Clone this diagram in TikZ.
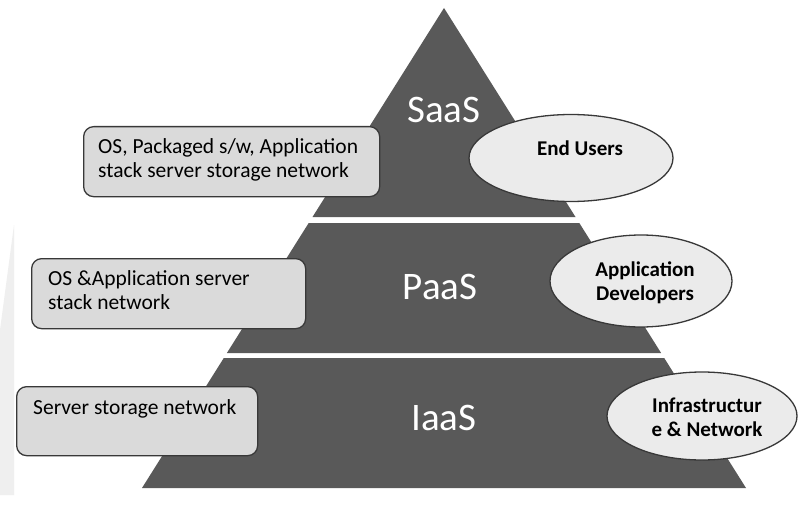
\documentclass[tikz,border=0pt]{standalone}
\usepackage{fontspec}
\setmainfont{Carlito}
\usetikzlibrary{shapes.geometric}

\definecolor{tiergray}{HTML}{595959}
\definecolor{boxgray}{HTML}{DADADA}
\definecolor{ellgray}{HTML}{EBEBEB}
\definecolor{edgegray}{HTML}{383838}
\definecolor{markgray}{HTML}{EFEFEF}

\begin{document}
\begin{tikzpicture}[x=1pt,y=-1pt,
  tier/.style={fill=tiergray},
  tierlabel/.style={text=white, inner sep=0pt, font=\fontsize{39}{44}\selectfont},
  infobox/.style={draw=edgegray, line width=1.3pt, fill=boxgray,
    rounded corners=10pt, anchor=north west, inner sep=0pt},
  boxtext/.style={anchor=north west, inner sep=0pt, align=left,
    font=\fontsize{21.5}{24.5}\selectfont},
  role/.style={ellipse, draw=edgegray, line width=1.3pt, fill=ellgray, inner sep=0pt},
  roletext/.style={inner sep=0pt, align=center, font=\bfseries\fontsize{21}{24}\selectfont}
]
\useasboundingbox (0,0) rectangle (800,524);
\fill[white] (0,0) rectangle (800,524);

% faint wedge along the left edge
\fill[markgray] (14,225) -- (14,495) -- (0,495) -- (0,330) -- cycle;

% the three tiers of the pyramid
\fill[tier] (444,8) -- (575.5,217) -- (312.5,217) -- cycle;
\fill[tier] (308.7,223) -- (579.3,223) -- (661.1,353) -- (226.9,353) -- cycle;
\fill[tier] (223.8,358) -- (664.2,358) -- (746,488) -- (142,488) -- cycle;

\node[tierlabel] (saas) at (444,110) {SaaS};
\node[tierlabel] (paas) at (440,287) {PaaS};
\node[tierlabel] (iaas) at (444,418) {IaaS};

% what each layer provides
\node[infobox, minimum width=296pt, minimum height=70pt] (box1) at (83,126) {};
\node[boxtext] (box1t) at ([xshift=15pt,yshift=-12pt]box1.north west)
  {OS, Packaged s/w, Application\\stack server storage network};

\node[infobox, minimum width=274pt, minimum height=70pt] (box2) at (31,258) {};
\node[boxtext] (box2t) at ([xshift=17pt,yshift=-12pt]box2.north west)
  {OS \&Application server\\stack network};

\node[infobox, minimum width=241pt, minimum height=69pt] (box3) at (16,386) {};
\node[boxtext] (box3t) at ([xshift=17pt,yshift=-13pt]box3.north west)
  {Server storage network};

% who uses each layer
\node[role, minimum width=204pt, minimum height=87pt] (users) at (571,158) {};
\node[roletext] (userst) at (580,148) {End Users};

\node[role, minimum width=182pt, minimum height=92pt] (devs) at (641,281) {};
\node[roletext] (devst) at (645,283) {Application\\Developers};

\node[role, minimum width=190pt, minimum height=88pt] (infra) at (702,416) {};
\node[roletext] (infrat) at (707,417) {Infrastructur\\e \& Network};
\end{tikzpicture}
\end{document}
